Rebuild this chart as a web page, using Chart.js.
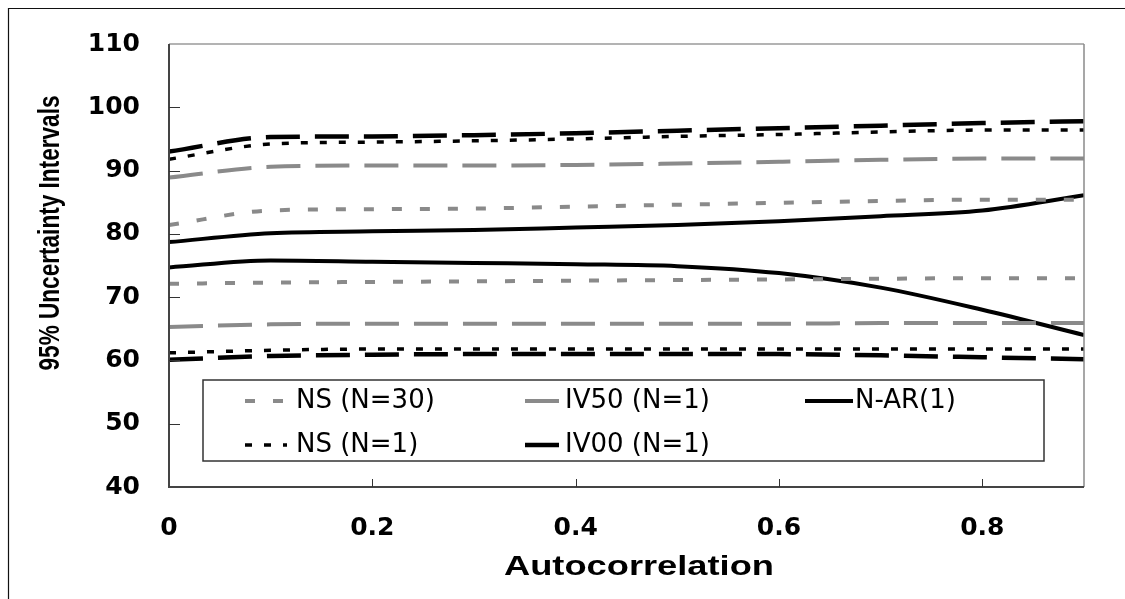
<!DOCTYPE html>
<html>
<head>
<meta charset="utf-8">
<script src="https://cdn.jsdelivr.net/npm/chart.js@4/dist/chart.umd.min.js"></script>
<style>
  html, body { margin: 0; padding: 0; background: #fff; }
  canvas { display: block; }
</style>
</head>
<body>
<canvas id="intervalChart" width="1125" height="599"></canvas>
<script>
// Autocorrelation values on the x axis
const autocorr = [0, 0.1, 0.2, 0.3, 0.4, 0.5, 0.6, 0.7, 0.8, 0.9];

// Upper / lower bounds of the 95% intervals for each method
const nsN30Upper = [81.4, 83.7, 83.9, 84.0, 84.3, 84.6, 84.9, 85.2, 85.4, 85.4];
const nsN30Lower = [72.1, 72.3, 72.4, 72.5, 72.6, 72.7, 72.8, 72.9, 73.0, 73.0];
const iv50Upper = [88.9, 90.6, 90.8, 90.8, 90.9, 91.1, 91.4, 91.7, 91.9, 91.9];
const iv50Lower = [65.3, 65.7, 65.8, 65.8, 65.8, 65.8, 65.8, 65.9, 65.9, 65.9];
const narUpper = [78.7, 80.1, 80.4, 80.6, 81.0, 81.4, 82.0, 82.8, 83.7, 86.1];
const narLower = [74.7, 75.8, 75.6, 75.4, 75.2, 74.9, 73.8, 71.5, 68.0, 64.0];
const nsN1Upper = [91.8, 94.2, 94.5, 94.7, 95.0, 95.4, 95.7, 96.1, 96.4, 96.4];
const nsN1Lower = [61.2, 61.6, 61.8, 61.8, 61.8, 61.8, 61.8, 61.8, 61.8, 61.8];
const iv00Upper = [93.0, 95.3, 95.4, 95.6, 95.9, 96.3, 96.7, 97.1, 97.5, 97.8];
const iv00Lower = [60.1, 60.7, 60.9, 61.0, 61.0, 61.0, 61.0, 60.8, 60.5, 60.2];

const seriesNames = ['NS (N=30)', 'IV50 (N=1)', 'N-AR(1)', 'NS (N=1)', 'IV00 (N=1)'];

const yTicks = [40, 50, 60, 70, 80, 90, 100, 110];
const xTicks = [0, 0.2, 0.4, 0.6, 0.8];

const GRAY = '#8a8a8a';
const styles = [
    { color: GRAY, width: 4, dash: [10, 18] },
    { color: GRAY, width: 4, dash: [34, 15] },
    { color: '#000', width: 4, dash: [] },
    { color: '#000', width: 3.5, dash: [7, 12] },
    { color: '#000', width: 4.5, dash: [34, 15] }
];

const pairs = [
    [nsN30Upper, nsN30Lower],
    [iv50Upper, iv50Lower],
    [narUpper, narLower],
    [nsN1Upper, nsN1Lower],
    [iv00Upper, iv00Lower]
];

function toPoints(values) {
    return autocorr.map((x, i) => ({ x: x, y: values[i] }));
}

const datasets = [];
pairs.forEach((pair, k) => {
    pair.forEach((values, j) => {
        datasets.push({
            label: seriesNames[k] + (j === 0 ? ' upper' : ' lower'),
            data: toPoints(values),
            borderColor: styles[k].color,
            borderWidth: styles[k].width,
            borderDash: styles[k].dash,
            borderCapStyle: 'butt',
            pointRadius: 0,
            cubicInterpolationMode: 'monotone',
            fill: false
        });
    });
});

// Draw text squeezed/stretched to a given width
function fitText(ctx, text, cx, cy, width, font, angle, align) {
    ctx.save();
    ctx.font = font;
    ctx.translate(cx, cy);
    if (angle) ctx.rotate(angle);
    const w = ctx.measureText(text).width;
    ctx.scale(width / w, 1);
    ctx.textAlign = align || 'center';
    ctx.textBaseline = 'middle';
    ctx.fillStyle = '#000';
    ctx.fillText(text, 0, 0);
    ctx.restore();
}

const decorPlugin = {
    id: 'decor',
    afterDraw(chart) {
        const ctx = chart.ctx;
        const area = chart.chartArea;
        const xs = chart.scales.x;
        const ys = chart.scales.y;

        ctx.save();
        // outer frame (left + top edges)
        ctx.strokeStyle = '#111';
        ctx.lineWidth = 1.2;
        ctx.beginPath();
        ctx.moveTo(8.5, chart.height);
        ctx.lineTo(8.5, 8.5);
        ctx.lineTo(chart.width, 8.5);
        ctx.stroke();

        // plot frame
        ctx.lineWidth = 1.5;
        ctx.strokeStyle = '#9a9a9a';
        ctx.beginPath();
        ctx.moveTo(area.left, area.top);
        ctx.lineTo(area.right, area.top);
        ctx.stroke();
        ctx.strokeStyle = '#8a8a8a';
        ctx.beginPath();
        ctx.moveTo(area.right, area.top);
        ctx.lineTo(area.right, area.bottom);
        ctx.stroke();
        ctx.lineWidth = 2;
        ctx.strokeStyle = '#444';
        ctx.beginPath();
        ctx.moveTo(area.left, area.top);
        ctx.lineTo(area.left, area.bottom);
        ctx.lineTo(area.right, area.bottom);
        ctx.stroke();

        // inward tick marks
        ctx.lineWidth = 1;
        ctx.strokeStyle = '#333';
        ctx.beginPath();
        yTicks.slice(1, -1).forEach(v => {
            const y = Math.round(ys.getPixelForValue(v)) + 0.5;
            ctx.moveTo(area.left, y);
            ctx.lineTo(area.left + 11, y);
        });
        xTicks.slice(1).forEach(v => {
            const x = Math.round(xs.getPixelForValue(v)) + 0.5;
            ctx.moveTo(x, area.bottom);
            ctx.lineTo(x, area.bottom - 8);
        });
        ctx.stroke();

        // axis titles
        fitText(ctx, 'Autocorrelation', 639, 567, 270, 'bold 28px "Liberation Sans"', 0);
        fitText(ctx, '95% Uncertainty Intervals', 51, 233, 275, 'bold 29px "Liberation Sans"', -Math.PI / 2);

        // legend box
        const box = { left: 203, top: 380, right: 1044, bottom: 461 };
        ctx.lineWidth = 1.5;
        ctx.strokeStyle = '#333';
        ctx.setLineDash([]);
        ctx.fillStyle = '#fff';
        ctx.fillRect(box.left, box.top, box.right - box.left, box.bottom - box.top);
        ctx.strokeRect(box.left, box.top, box.right - box.left, box.bottom - box.top);

        const slots = [
            { x0: 245, x1: 287, tx: 296, y: 401 },
            { x0: 525, x1: 560, tx: 565, y: 401 },
            { x0: 805, x1: 853, tx: 855, y: 401 },
            { x0: 245, x1: 287, tx: 296, y: 445 },
            { x0: 525, x1: 560, tx: 565, y: 445 }
        ];
        slots.forEach((s, k) => {
            const ds = chart.data.datasets[k * 2];
            ctx.save();
            ctx.strokeStyle = ds.borderColor;
            ctx.lineWidth = ds.borderWidth;
            ctx.setLineDash(ds.borderDash);
            ctx.beginPath();
            ctx.moveTo(s.x0, s.y);
            ctx.lineTo(s.x1, s.y);
            ctx.stroke();
            ctx.restore();
            ctx.fillStyle = '#000';
            ctx.font = '26px "DejaVu Sans"';
            ctx.textAlign = 'left';
            ctx.textBaseline = 'middle';
            ctx.fillText(seriesNames[k], s.tx, s.y);
        });
        ctx.restore();
    }
};

const tickFont = { family: 'DejaVu Sans', weight: 'bold', size: 25 };

new Chart(document.getElementById('intervalChart'), {
    type: 'line',
    data: { datasets: datasets },
    options: {
        responsive: false,
        animation: false,
        layout: { padding: { top: 40, right: 41, left: 0, bottom: 0 } },
        plugins: {
            legend: { display: false },
            tooltip: { enabled: false }
        },
        scales: {
            x: {
                type: 'linear',
                min: 0,
                max: 0.9,
                grid: { display: false, drawTicks: false },
                border: { display: false },
                afterBuildTicks: scale => {
                    scale.ticks = xTicks.map(v => ({ value: v }));
                },
                ticks: {
                    padding: 26,
                    color: '#000',
                    font: tickFont,
                    callback: v => String(+v.toFixed(1))
                },
                afterFit: scale => { scale.height = 112; }
            },
            y: {
                min: 40,
                max: 110,
                grid: { display: false, drawTicks: false },
                border: { display: false },
                afterBuildTicks: scale => {
                    scale.ticks = yTicks.map(v => ({ value: v }));
                },
                ticks: {
                    padding: 29,
                    color: '#000',
                    font: tickFont
                },
                afterFit: scale => { scale.width = 169; }
            }
        }
    },
    plugins: [decorPlugin]
});
</script>
</body>
</html>
